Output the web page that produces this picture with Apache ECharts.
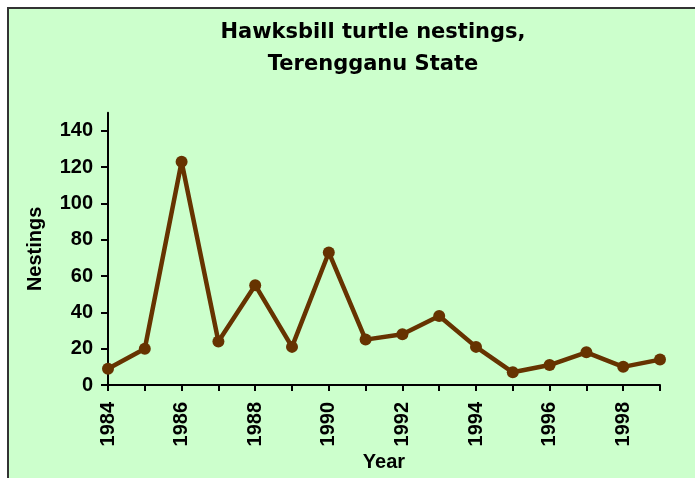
<!DOCTYPE html>
<html>
<head>
<meta charset="utf-8">
<script src="https://cdn.jsdelivr.net/npm/echarts@6/dist/echarts.min.js"></script>
<style>
html,body{margin:0;padding:0;background:#fff;}
#chart{width:695px;height:478px;}
</style>
</head>
<body>
<div id="chart"></div>
<script>
const years = ['1984','1985','1986','1987','1988','1989','1990','1991','1992','1993','1994','1995','1996','1997','1998','1999'];
const nestings = [9, 20, 123, 24, 55, 21, 73, 25, 28, 38, 21, 7, 11, 18, 10, 14];
const yTicks = [0, 20, 40, 60, 80, 100, 120, 140];
const titleText = 'Hawksbill turtle nestings,\nTerengganu State';

const chart = echarts.init(document.getElementById('chart'));
const labelFont = {fontFamily: '"Liberation Sans", Arial, sans-serif', fontWeight: 'bold', color: '#000'};
chart.setOption({
  backgroundColor: '#ffffff',
  animation: false,
  graphic: [{
    type: 'rect', z: -10, silent: true,
    shape: {x: 8, y: 8, width: 700, height: 490},
    style: {fill: '#CCFFCC', stroke: '#333333', lineWidth: 2}
  }],
  title: {
    text: titleText,
    left: 368,
    textAlign: 'center',
    top: 12,
    textStyle: {fontFamily: '"DejaVu Sans", sans-serif', fontWeight: 'bold', fontSize: 21, lineHeight: 32, color: '#000'}
  },
  grid: {left: 108, right: 35, top: 112.7, bottom: 93, containLabel: false, outerBoundsMode: 'none'},
  xAxis: {
    type: 'category',
    data: years,
    boundaryGap: false,
    name: 'Year',
    nameLocation: 'middle',
    nameGap: 67,
    nameMoveOverlap: false,
    nameTextStyle: Object.assign({fontSize: 20}, labelFont),
    axisLine: {lineStyle: {color: '#000', width: 2}},
    axisTick: {show: true, length: 6, interval: 0, lineStyle: {color: '#000', width: 2}},
    axisLabel: Object.assign({rotate: 90, interval: 1, margin: 17, fontSize: 20}, labelFont),
    splitLine: {show: false}
  },
  yAxis: {
    type: 'value',
    min: 0, max: 150, interval: 10,
    name: 'Nestings',
    nameLocation: 'middle',
    nameGap: 63,
    nameMoveOverlap: false,
    nameTextStyle: Object.assign({fontSize: 20}, labelFont),
    axisLine: {show: true, lineStyle: {color: '#000', width: 2}},
    axisTick: {show: true, length: 7, customValues: yTicks, lineStyle: {color: '#000', width: 2}},
    axisLabel: Object.assign({margin: 15, fontSize: 20, customValues: yTicks}, labelFont),
    splitLine: {show: false}
  },
  series: [{
    type: 'line',
    data: nestings,
    symbol: 'circle',
    symbolSize: 12,
    lineStyle: {color: '#663300', width: 4.5},
    itemStyle: {color: '#663300'}
  }]
});
</script>
</body>
</html>
